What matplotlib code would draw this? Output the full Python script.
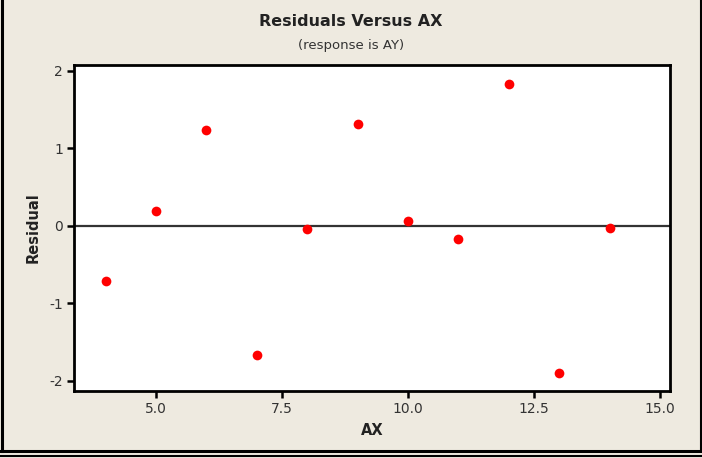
import matplotlib
matplotlib.use("Agg")
import matplotlib.pyplot as plt
from matplotlib.lines import Line2D

# Residuals of the AY regression against the predictor AX
ax_values = [4, 5, 6, 7, 8, 9, 10, 11, 12, 13, 14]
residuals = [-0.72, 0.19, 1.23, -1.67, -0.04, 1.31, 0.06, -0.17, 1.83, -1.90, -0.03]

x_ticks = [5.0, 7.5, 10.0, 12.5, 15.0]
x_tick_labels = ["5.0", "7.5", "10.0", "12.5", "15.0"]
y_ticks = [-2, -1, 0, 1, 2]
y_tick_labels = ["-2", "-1", "0", "1", "2"]

BG = "#EEEAE0"
TXT = "#333333"

plt.rcParams["font.family"] = ["DejaVu Sans"]

fig = plt.figure(figsize=(7.02, 4.58), dpi=100, facecolor=BG)
W, H = 702, 458
ax = fig.add_axes([74 / W, 1 - 391 / H, (670 - 74) / W, (391 - 65) / H])
ax.set_facecolor("white")

ax.axhline(0, color="#333333", lw=1.6, zorder=1)
ax.plot(ax_values, residuals, "o", color="#FF0000", markersize=7,
        markeredgewidth=0, zorder=3)

ax.set_xlim(3.373, 15.198)
ax.set_ylim(-2.133, 2.073)
ax.set_xticks(x_ticks)
ax.set_xticklabels(x_tick_labels)
ax.set_yticks(y_ticks)
ax.set_yticklabels(y_tick_labels)

for s in ax.spines.values():
    s.set_linewidth(2.0)
    s.set_color("black")
ax.tick_params(direction="out", length=5, width=1.8, color="black",
               labelsize=10, labelcolor=TXT, pad=3)

ax.set_xlabel("AX", fontsize=10.5, fontweight="bold", color="#222222", labelpad=5)
ax.set_ylabel("Residual", fontsize=10.5, fontweight="bold", color="#222222", labelpad=6)

fig.text(0.5, 1 - 21 / H, "Residuals Versus AX", ha="center", va="center",
         fontsize=11.5, fontweight="bold", color="#222222")
fig.text(0.5, 1 - 45 / H, "(response is AY)", ha="center", va="center",
         fontsize=9.5, color=TXT)

# window frame around the figure
def fline(x0, y0, x1, y1, lw):
    fig.add_artist(Line2D([x0 / W, x1 / W], [1 - y0 / H, 1 - y1 / H],
                          color="black", lw=lw, transform=fig.transFigure))

fline(1.5, 0, 1.5, 451, 2.2)
fline(701, 0, 701, 451, 1.5)
fline(0, 451, W, 451, 2.2)
fline(0, 456, W, 456, 1.5)

fig.savefig("out.png", dpi=100, facecolor=BG)
